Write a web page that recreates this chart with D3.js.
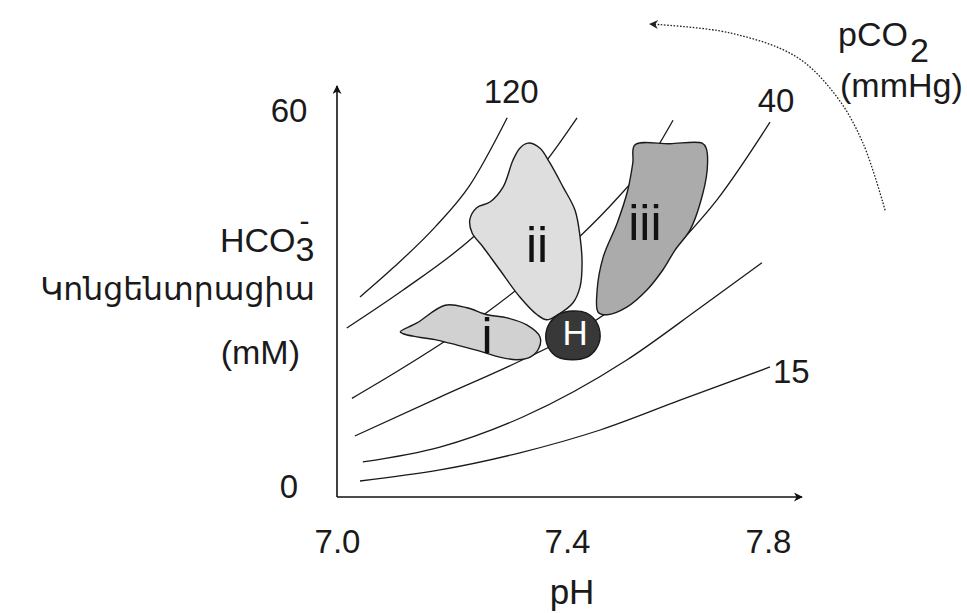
<!DOCTYPE html>
<html>
<head>
<meta charset="utf-8">
<script src="https://cdn.jsdelivr.net/npm/d3@7"></script>
<style>
  body { margin: 0; background: #fff; }
  svg text { font-family: "Liberation Sans", Arial, "DejaVu Sans", sans-serif; fill: #1a1a1a; }
</style>
</head>
<body>
<svg id="chart" width="967" height="613"></svg>
<script>

// Tick labels
var xTicks = [7.0, 7.4, 7.8];
var yTicks = [0, 60];

// Isobars, [pH, HCO3 mM] (top-left to bottom-right)
var iso120 = [[7.04, 30.0], [7.10, 34.8], [7.17, 41.0], [7.23, 47.5], [7.296, 58.3]];
var isoB   = [[7.017, 25.1], [7.115, 31.1], [7.235, 39.3], [7.365, 51.6], [7.42, 58.3]];
var isoC   = [[7.026, 14.0], [7.10, 18.0], [7.179, 22.5], [7.261, 27.6], [7.33, 32.4],
              [7.426, 39.6], [7.50, 45.6], [7.56, 51.2], [7.611, 57.9]];
var iso40  = [[7.031, 8.05], [7.179, 14.2], [7.322, 20.05], [7.41, 24.0], [7.52, 30.0],
              [7.611, 37.4], [7.70, 45.5], [7.804, 57.6]];
var isoE   = [[7.045, 3.95], [7.179, 6.3], [7.323, 11.05], [7.519, 20.05], [7.665, 28.3], [7.788, 35.4]];
var iso15  = [[7.04, 0.95], [7.179, 2.7], [7.318, 5.4], [7.466, 9.0], [7.625, 13.7], [7.804, 18.95]];

var isobars = [iso120, isoB, isoC, iso40, isoE, iso15];

// Regions (outlines in pH / HCO3)
var regionI = [[7.110, 24.5], [7.139, 25.9], [7.188, 28.7], [7.226, 28.3], [7.261, 27.2], [7.296, 26.7],
               [7.330, 25.6], [7.353, 23.7], [7.351, 21.9], [7.336, 20.5], [7.313, 20.1], [7.283, 20.5],
               [7.254, 21.3], [7.209, 22.4], [7.174, 23.2], [7.139, 23.7], [7.115, 24.2]];
var regionII = [[7.332, 54.3], [7.353, 53.5], [7.370, 51.2], [7.393, 47.4], [7.416, 43.7], [7.426, 39.5],
                [7.430, 35.4], [7.426, 31.6], [7.412, 29.1], [7.384, 27.2], [7.365, 26.4], [7.348, 27.2],
                [7.318, 30.0], [7.283, 34.3], [7.254, 37.9], [7.235, 40.1], [7.231, 42.2], [7.243, 44.1],
                [7.266, 45.0], [7.289, 47.4], [7.306, 51.6], [7.318, 53.5]];
var regionIII = [[7.535, 54.0], [7.605, 54.2], [7.669, 54.3], [7.677, 53.5], [7.679, 50.1], [7.665, 44.8],
                 [7.645, 40.6], [7.615, 37.4], [7.591, 34.3], [7.559, 31.1], [7.519, 28.4], [7.480, 27.2],
                 [7.462, 27.6], [7.460, 31.1], [7.472, 36.3], [7.500, 41.7], [7.521, 46.9], [7.531, 51.2]];
var regionH = [[7.466, 23.8], [7.458, 26.1], [7.438, 27.5], [7.412, 27.8], [7.386, 27.3], [7.370, 25.9],
               [7.363, 23.8], [7.369, 21.8], [7.384, 20.5], [7.412, 20.1], [7.440, 20.5], [7.458, 21.8]];

var regions = [regionI, regionII, regionIII, regionH];
var regionNames = ["i", "ii", "iii", "H"];
var regionLabelAt = [[7.261, 21.2], [7.348, 35.5], [7.555, 39.0], [7.416, 22.4]];

// pCO2 direction arrow (pH / HCO3)
var pco2Arrow = [[8.033, 43.7], [7.989, 54.3], [7.937, 61.6], [7.857, 67.9], [7.724, 71.7], [7.565, 73.1]];

var svg = d3.select("#chart");

const x = d3.scaleLinear().domain([7.0, 7.4, 7.8]).range([337, 567, 768]);
const y = d3.scaleLinear().domain([0, 60]).range([487, 107]);
const axisY = 497; // the x axis line sits a little under HCO3 = 0

// Arrow heads
var defs = svg.append("defs");
defs.append("marker")
    .attr("id", "axisHead")
    .attr("viewBox", "0 0 10 10")
    .attr("refX", 9).attr("refY", 5)
    .attr("markerUnits", "userSpaceOnUse")
    .attr("markerWidth", 15).attr("markerHeight", 9)
    .attr("orient", "auto")
  .append("path")
    .attr("d", "M0,0 L10,5 L0,10 L3,5 Z")
    .attr("fill", "#111");
defs.append("marker")
    .attr("id", "dotHead")
    .attr("viewBox", "0 0 10 10")
    .attr("refX", 9).attr("refY", 5)
    .attr("markerUnits", "userSpaceOnUse")
    .attr("markerWidth", 13).attr("markerHeight", 9)
    .attr("orient", "auto")
  .append("path")
    .attr("d", "M0,0 L10,5 L0,10 L3,5 Z")
    .attr("fill", "#222");

// Isobars
const isoLine = d3.line()
    .x(d => x(d[0]))
    .y(d => y(d[1]))
    .curve(d3.curveMonotoneX);

svg.selectAll(".isobar")
    .data(isobars)
    .enter().append("path")
    .attr("class", "isobar")
    .attr("d", isoLine)
    .attr("fill", "none")
    .attr("stroke", "#1a1a1a")
    .attr("stroke-width", 1.3);

// Regions
const regionLine = d3.line()
    .x(d => x(d[0]))
    .y(d => y(d[1]))
    .curve(d3.curveCatmullRomClosed.alpha(0.5));
var regionFill = ["#d1d1d1", "#dedede", "#ababab", "#383838"];

svg.selectAll(".region")
    .data(regions)
    .enter().append("path")
    .attr("class", "region")
    .attr("d", regionLine)
    .attr("fill", (d, i) => regionFill[i])
    .attr("stroke", "#1a1a1a")
    .attr("stroke-width", 1.4);

svg.selectAll(".regionLabel")
    .data(regionNames)
    .enter().append("text")
    .attr("class", "regionLabel")
    .attr("x", (d, i) => x(regionLabelAt[i][0]))
    .attr("y", (d, i) => y(regionLabelAt[i][1]))
    .attr("text-anchor", "middle")
    .style("font-size", d => d == "H" ? "35px" : "50px")
    .style("fill", d => d == "H" ? "#ffffff" : "#111")
    .text(d => d);

// Isobar labels, next to the curve ends
var isoNames = ["120", "40", "15"];
var isoNamed = [iso120, iso40, iso15];
var isoOffset = [[4, -15, "middle"], [6, -10, "middle"], [3, 16, "start"]];
isoNames.forEach(function (name, i) {
    var end = isoNamed[i][isoNamed[i].length - 1];
    svg.append("text")
        .attr("x", x(end[0]) + isoOffset[i][0])
        .attr("y", y(end[1]) + isoOffset[i][1])
        .attr("text-anchor", isoOffset[i][2])
        .style("font-size", "33px")
        .text(name);
});

// Axes
svg.append("line")
    .attr("x1", x(7.0)).attr("y1", axisY)
    .attr("x2", 802).attr("y2", axisY)
    .attr("stroke", "#111").attr("stroke-width", 1.6)
    .attr("marker-end", "url(#axisHead)");
svg.append("line")
    .attr("x1", x(7.0)).attr("y1", axisY)
    .attr("x2", x(7.0)).attr("y2", 86)
    .attr("stroke", "#111").attr("stroke-width", 1.6)
    .attr("marker-end", "url(#axisHead)");

var gx = svg.append("g")
    .attr("transform", `translate(0,${axisY})`)
    .call(d3.axisBottom(x).tickValues(xTicks).tickSize(0).tickPadding(33).tickFormat(d3.format(".1f")));
gx.select(".domain").remove();
gx.selectAll("text").style("font-size", "33px").attr("fill", null);

var gy = svg.append("g")
    .attr("transform", `translate(${x(7.0)},0)`)
    .call(d3.axisLeft(y).tickValues(yTicks).tickSize(0));
gy.select(".domain").remove();
gy.selectAll("text")
    .attr("x", -48)
    .attr("dy", d => d == 60 ? "0.45em" : "0.32em")
    .attr("text-anchor", "middle")
    .style("font-size", "33px")
    .attr("fill", null);

// Axis titles
svg.append("text").attr("x", 572).attr("y", 604).attr("text-anchor", "middle")
    .style("font-size", "35px").text("pH");

// HCO3 with the minus set right above the subscript 3
var hco = svg.append("text").attr("x", 220).attr("y", 252).style("font-size", "34px");
hco.append("tspan").text("HCO");
hco.append("tspan").attr("dy", 9).text("3");
hco.append("tspan").attr("dx", -15).attr("dy", -30).style("font-size", "30px").text("-");

var conc = svg.append("text").attr("x", 315).attr("y", 300).attr("text-anchor", "end")
    .style("font-size", "34px").text("Կոնցենտրացիա");
// squeeze or stretch the word to the width it has in the figure
var concLen = conc.node().getComputedTextLength();
conc.style("font-size", (34 * 275 / concLen).toFixed(1) + "px");

svg.append("text").attr("x", 300).attr("y", 364).attr("text-anchor", "end")
    .style("font-size", "34px").text("(mM)");

// pCO2 arrow and its label
svg.append("path")
    .attr("d", d3.line().x(d => x(d[0])).y(d => y(d[1])).curve(d3.curveCatmullRom)(pco2Arrow))
    .attr("fill", "none")
    .attr("stroke", "#222")
    .attr("stroke-width", 1.3)
    .attr("stroke-dasharray", "1.6,1.6")
    .attr("marker-end", "url(#dotHead)");

var pco = svg.append("text").attr("x", 838).attr("y", 46).style("font-size", "34px");
pco.append("tspan").text("pCO");
pco.append("tspan").attr("dx", 2).attr("dy", 16).text("2");
svg.append("text").attr("x", 840).attr("y", 97).style("font-size", "34px").text("(mmHg)");

</script>
</body>
</html>
